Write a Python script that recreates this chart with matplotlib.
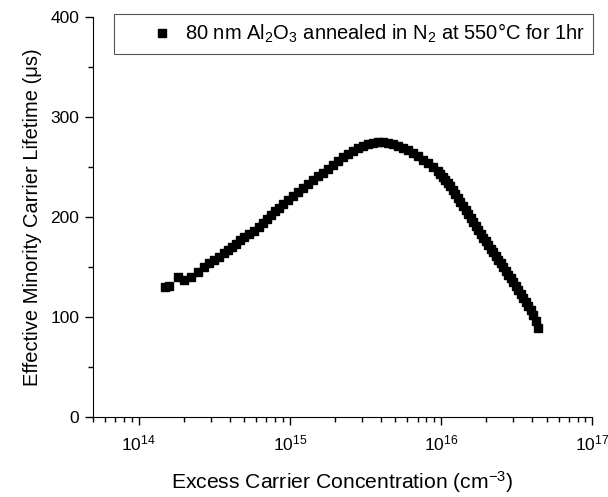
import matplotlib
matplotlib.use("Agg")
import matplotlib.pyplot as plt
from matplotlib.ticker import LogLocator, MultipleLocator, NullFormatter

plt.rcParams['font.family'] = ['Liberation Sans', 'DejaVu Sans']
plt.rcParams['mathtext.default'] = 'regular'

# excess carrier concentration (cm^-3) and lifetime (us)
conc = [
    1.49e14, 1.60e14, 1.81e14, 1.99e14, 2.21e14, 2.46e14, 2.70e14, 2.91e14,
    3.14e14, 3.39e14, 3.66e14, 3.89e14, 4.13e14, 4.39e14, 4.67e14, 4.96e14,
    5.35e14, 5.78e14, 6.23e14, 6.63e14, 7.04e14, 7.48e14, 7.96e14, 8.46e14,
    8.99e14, 9.70e14, 1.047e15, 1.130e15, 1.220e15, 1.316e15, 1.420e15,
    1.532e15, 1.654e15, 1.785e15, 1.927e15, 2.079e15, 2.244e15, 2.422e15,
    2.614e15, 2.821e15, 3.044e15, 3.286e15, 3.546e15, 3.827e15, 4.130e15,
    4.457e15, 4.810e15, 5.191e15, 5.603e15, 6.047e15, 6.526e15, 7.043e15,
    7.601e15, 8.203e15, 8.853e15, 9.554e15, 9.92e15, 1.031e16, 1.071e16,
    1.113e16, 1.156e16, 1.201e16, 1.247e16, 1.296e16, 1.346e16, 1.399e16,
    1.453e16, 1.510e16, 1.568e16, 1.629e16, 1.692e16, 1.758e16, 1.827e16,
    1.897e16, 1.971e16, 2.048e16, 2.128e16, 2.210e16, 2.296e16, 2.385e16,
    2.477e16, 2.574e16, 2.674e16, 2.778e16, 2.886e16, 2.998e16, 3.114e16,
    3.235e16, 3.362e16, 3.492e16, 3.628e16, 3.769e16, 3.915e16, 4.068e16,
    4.258e16, 4.390e16,
]
lifetime = [
    130, 131, 140, 137, 140, 145, 150, 154,
    157, 160, 164, 167, 170, 173, 177, 180,
    183, 186, 190, 194, 198, 202, 206, 209,
    213, 217, 221, 225, 229, 233, 237,
    241, 244, 248, 252, 256, 260, 263,
    266, 269, 271, 273, 274, 275, 275,
    274, 273, 271, 269, 267, 264, 261,
    257, 254, 250, 246, 243, 240, 237,
    234, 230.5, 227, 223, 219, 215, 211,
    207, 203, 199, 195, 191, 187, 183,
    179, 175.5, 172, 168, 164.5, 161, 157,
    153.5, 150, 146, 142, 138.5, 135, 131,
    127, 123, 119, 115, 111, 106.5, 102,
    96, 89,
]

fig = plt.figure(figsize=(6.08, 4.97), dpi=100)
ax = fig.add_axes([0.153, 0.161, 0.821, 0.805])

ax.plot(conc, lifetime, 's', color='black', markersize=5.2,
        label=r'80 nm Al$_2$O$_3$ annealed in N$_2$ at 550$\degree$C for 1hr')

ax.set_xscale('log')
ax.set_xlim(5e13, 1e17)
ax.set_ylim(0, 400)

ax.xaxis.set_major_locator(LogLocator(base=10, numticks=10))
ax.xaxis.set_minor_locator(LogLocator(base=10, subs=range(2, 10), numticks=20))
ax.xaxis.set_minor_formatter(NullFormatter())
ax.yaxis.set_major_locator(MultipleLocator(100))
ax.yaxis.set_minor_locator(MultipleLocator(50))

ax.spines['top'].set_visible(False)
ax.spines['right'].set_visible(False)
ax.tick_params(which='major', direction='out', length=6, width=1, labelsize=12.5, pad=4)
ax.tick_params(which='minor', direction='out', length=3.5, width=1)
ax.tick_params(axis='x', which='major', pad=6)

ax.set_xlabel('Excess Carrier Concentration (cm$^{-3}$)', fontsize=15.2, labelpad=11)
ax.set_ylabel('Effective Minority Carrier Lifetime (μs)', fontsize=14.5, labelpad=6)

leg = ax.legend(loc='upper right', bbox_to_anchor=(1.002, 1.008), borderaxespad=0,
                numpoints=1, fontsize=14.5, fancybox=False, framealpha=1,
                edgecolor='#555555', handlelength=4.0, handletextpad=-0.9,
                borderpad=0.42)
leg.get_frame().set_linewidth(0.8)

fig.savefig('out.png', dpi=100)
